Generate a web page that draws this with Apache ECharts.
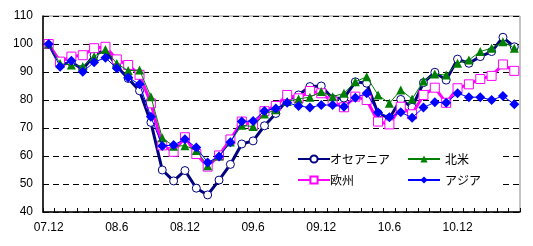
<!DOCTYPE html>
<html>
<head>
<meta charset="utf-8">
<title>chart</title>
<script src="https://cdn.jsdelivr.net/npm/echarts@6/dist/echarts.min.js"></script>
<style>
  html, body { margin: 0; padding: 0; background: #fff; }
  #main { width: 533px; height: 246px; }
</style>
</head>
<body>
<div id="main"></div>
<script>
// 月 (07.12 - 11.5)
var months = [];
for (var i = 0; i < 42; i++) {
  var y = 7 + Math.floor((11 + i) / 12);
  var m = (11 + i) % 12 + 1;
  months.push((y < 10 ? '0' + y : '' + y) + '.' + m);
}

var oceania = [100, 92.5, 93.5, 91, 96, 98, 92, 87.7, 83.3, 72, 55, 51.1, 54.8, 48.5, 46.1, 51.4, 57, 64.3, 65.4, 70.8, 75.2, 80,
  81.8, 84.8, 85, 80.5, 80.7, 86.5, 86, 75.2, 73.5, 80.2, 77.4, 86.2, 89.9, 87.1, 94.6, 93.1, 95.5, 97.3, 102.4, 99];
var europe = [100, 93.7, 95.5, 96, 98.5, 99, 94.5, 92.5, 89, 78.8, 63.8, 61.5, 66.7, 60.7, 56.2, 60.2, 65.9, 72.3, 71, 76, 77.9, 81.8,
  80.6, 83.2, 82.4, 79.4, 77.4, 81.2, 80, 72.3, 71.3, 77.6, 74.9, 81.8, 84.4, 79, 84.2, 85.6, 87.5, 88.6, 92.7, 90.4];
var namerica = [100, 93, 92.5, 92, 95.5, 98, 93, 90.5, 90.7, 81.2, 66.5, 63.5, 63.7, 62, 56.5, 60, 65, 71, 70.5, 75, 76.5, 79.5,
  80.4, 81, 83, 81.2, 82.4, 86.5, 88.3, 81.8, 78.8, 83.6, 80.4, 86.8, 89.3, 88.9, 93.1, 94.3, 97.3, 98.5, 100.8, 98.5];
var asia = [100, 91.9, 94, 90.1, 93.5, 95.1, 91.3, 88, 85.6, 74, 63.6, 63.9, 66, 63, 57.7, 59.8, 64.9, 72.3, 72.5, 76.1, 77, 79,
  77.9, 77.3, 78.2, 78.2, 77.6, 80.8, 82.4, 75.5, 73.8, 75.6, 73.7, 77.3, 79.2, 79, 82.4, 81, 81, 80, 81.4, 78.5];

var yMin = 40, yMax = 110, yStep = 10;

var font = '"Liberation Sans", Arial, sans-serif';
var jpFont = '"Noto Sans CJK JP", sans-serif';

var chart = echarts.init(document.getElementById('main'));
chart.setOption({
  animation: false,
  backgroundColor: '#fff',
  grid: {
    left: 43, right: 13, top: 16, bottom: 34,
    show: true, borderColor: '#888', borderWidth: 1
  },
  graphic: [{
    type: 'rect', z: 1,
    shape: { x: 283, y: 143, width: 219, height: 52 },
    style: { fill: '#fff' }
  }],
  legend: [{
    data: ['オセアニア', '欧州'],
    orient: 'vertical',
    left: 292, top: 148,
    itemWidth: 32, itemHeight: 9, itemGap: 9,
    textStyle: { fontFamily: jpFont, fontSize: 12, color: '#000', padding: [0, 0, 0, -5] },
    z: 5
  }, {
    data: ['北米', 'アジア'],
    orient: 'vertical',
    left: 402, top: 148,
    itemWidth: 32, itemHeight: 9, itemGap: 9,
    textStyle: { fontFamily: jpFont, fontSize: 12, color: '#000' },
    z: 5
  }],
  xAxis: {
    type: 'category',
    data: months,
    boundaryGap: true,
    axisLine: { lineStyle: { color: '#000', width: 1.5 } },
    axisTick: { show: true, inside: true, length: 4, interval: 0, lineStyle: { color: '#000' } },
    axisLabel: { interval: 5, margin: 10, fontFamily: font, fontSize: 12, color: '#000' },
    splitLine: { show: false }
  },
  yAxis: {
    type: 'value',
    min: yMin, max: yMax, interval: yStep,
    axisLine: { show: true, lineStyle: { color: '#000', width: 1.5 } },
    axisTick: { show: false },
    axisLabel: { margin: 10, fontFamily: font, fontSize: 12, color: '#000' },
    splitLine: { show: true, lineStyle: { color: '#000', type: [6, 4], width: 1 } }
  },
  series: [{
    name: 'オセアニア', type: 'line', data: oceania, z: 2,
    symbol: 'circle', symbolSize: 8, showAllSymbol: true,
    lineStyle: { color: '#000080', width: 3 },
    itemStyle: { color: '#fff', borderColor: '#000080', borderWidth: 1 }
  }, {
    name: '欧州', type: 'line', data: europe, z: 3,
    symbol: 'rect', symbolSize: 9, showAllSymbol: true,
    lineStyle: { color: '#ff00ff', width: 3 },
    itemStyle: { color: '#fff', borderColor: '#ff00ff', borderWidth: 1 }
  }, {
    name: '北米', type: 'line', data: namerica, z: 4,
    symbol: 'triangle', symbolSize: 9, showAllSymbol: true,
    lineStyle: { color: '#008000', width: 1 },
    itemStyle: { color: '#008000' }
  }, {
    name: 'アジア', type: 'line', data: asia, z: 5,
    symbol: 'diamond', symbolSize: 10, showAllSymbol: true,
    lineStyle: { color: '#0000ff', width: 1 },
    itemStyle: { color: '#0000ff' }
  }]
});
</script>
</body>
</html>
